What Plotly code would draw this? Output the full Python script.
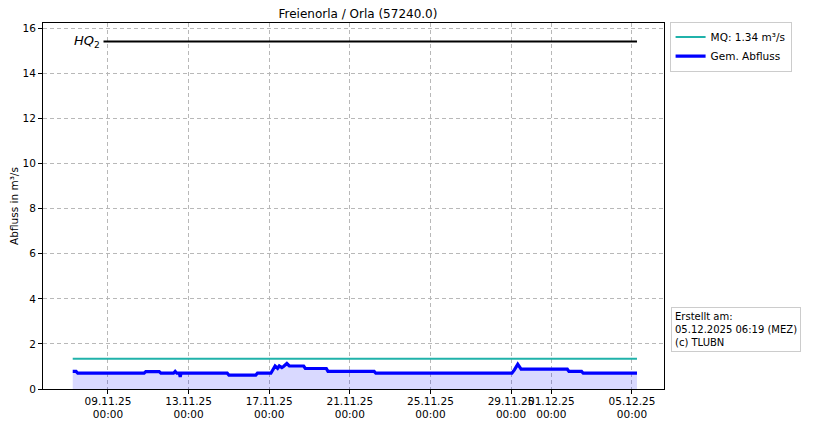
import plotly.graph_objects as go

# ---- data ----
flow_times = [
    "2025-11-07 06:00", "2025-11-07 10:00", "2025-11-07 12:00", "2025-11-10 19:00",
    "2025-11-10 21:00", "2025-11-11 13:00", "2025-11-11 15:00", "2025-11-12 06:00",
    "2025-11-12 08:00", "2025-11-12 10:00", "2025-11-12 13:00", "2025-11-12 14:00",
    "2025-11-12 15:00", "2025-11-14 22:00", "2025-11-15 00:00", "2025-11-16 08:00",
    "2025-11-16 10:00", "2025-11-17 02:00", "2025-11-17 07:00", "2025-11-17 10:00",
    "2025-11-17 12:00", "2025-11-17 15:00", "2025-11-17 17:00", "2025-11-17 21:00",
    "2025-11-18 00:00", "2025-11-18 17:00", "2025-11-18 19:00", "2025-11-19 20:00",
    "2025-11-19 22:00", "2025-11-22 05:00", "2025-11-22 07:00", "2025-11-29 01:00",
    "2025-11-29 04:00", "2025-11-29 08:00", "2025-11-29 12:00", "2025-12-01 19:00",
    "2025-12-01 21:00", "2025-12-02 12:00", "2025-12-02 14:00", "2025-12-05 06:00",
]
flow_values = [
    0.78, 0.78, 0.70, 0.70,
    0.77, 0.77, 0.70, 0.70,
    0.78, 0.70, 0.70, 0.54,
    0.70, 0.70, 0.62, 0.62,
    0.70, 0.70, 1.02, 0.92,
    1.02, 0.95, 1.00, 1.13,
    1.02, 1.02, 0.91, 0.91,
    0.78, 0.78, 0.70, 0.70,
    0.85, 1.10, 0.88, 0.88,
    0.78, 0.78, 0.70, 0.70,
]
mq_value = 1.34
hq2_value = 15.42
period = ["2025-11-07 06:00", "2025-12-05 06:00"]

tick_dates = ["2025-11-09", "2025-11-13", "2025-11-17", "2025-11-21",
              "2025-11-25", "2025-11-29", "2025-12-01", "2025-12-05"]
tick_labels = ["09.11.25<br>00:00", "13.11.25<br>00:00", "17.11.25<br>00:00",
               "21.11.25<br>00:00", "25.11.25<br>00:00", "29.11.25<br>00:00",
               "01.12.25<br>00:00", "05.12.25<br>00:00"]
y_ticks = [0, 2, 4, 6, 8, 10, 12, 14, 16]

FONT = "DejaVu Sans"

fig = go.Figure()

# fill under flow
fig.add_trace(go.Scatter(
    x=flow_times, y=flow_values, mode="lines", fill="tozeroy",
    fillcolor="rgba(0,0,255,0.15)", line=dict(width=0), showlegend=False,
    hoverinfo="skip"))

# HQ2
fig.add_trace(go.Scatter(
    x=period, y=[hq2_value, hq2_value], mode="lines",
    line=dict(color="black", width=2), showlegend=False))

# MQ
fig.add_trace(go.Scatter(
    x=period, y=[mq_value, mq_value], mode="lines",
    line=dict(color="#20b2aa", width=2), name="MQ: 1.34 m³/s"))

# flow
fig.add_trace(go.Scatter(
    x=flow_times, y=flow_values, mode="lines",
    line=dict(color="blue", width=3.2), name="Gem. Abfluss"))

fig.add_annotation(
    x=period[0], y=hq2_value, xref="x", yref="y", xanchor="left", yanchor="middle",
    xshift=-3, text="<i>HQ</i><sub>2</sub>", showarrow=False, bgcolor="white",
    borderpad=3, font=dict(family=FONT, size=13, color="black"))

fig.add_annotation(
    x=1.012, y=0.1, xref="paper", yref="paper", xanchor="left", yanchor="bottom",
    text="Erstellt am:<br>05.12.2025 06:19 (MEZ)<br>(c) TLUBN", align="left",
    showarrow=False, bgcolor="white", bordercolor="#cccccc", borderwidth=1,
    borderpad=3, font=dict(family=FONT, size=10, color="black"))

axis_common = dict(
    showline=True, linecolor="black", linewidth=1, mirror=True,
    ticks="outside", ticklen=4, tickcolor="black",
    showgrid=True, gridcolor="#b8b8b8", griddash="4px,3px", gridwidth=1,
    zeroline=False, tickfont=dict(family=FONT, size=10.5, color="black"),
    automargin=False,
)

fig.update_layout(
    width=812, height=418,
    margin=dict(l=35, r=156, t=15, b=37),
    paper_bgcolor="white", plot_bgcolor="white",
    font=dict(family=FONT, size=10, color="black"),
    title=dict(text="Freienorla / Orla (57240.0)", x=0.431, xanchor="center",
               y=0.986, yanchor="middle", font=dict(family=FONT, size=12, color="black")),
    xaxis=dict(range=["2025-11-05 18:36", "2025-12-06 14:10"], tickvals=tick_dates,
               ticktext=tick_labels, tickangle=0, ticklabelstandoff=-2, **axis_common),
    yaxis=dict(range=[0, 16.24], tickvals=y_ticks,
               title=dict(text="Abfluss in m³/s", font=dict(family=FONT, size=10.5), standoff=4),
               **axis_common),
    legend=dict(x=1.009, y=1.004, xanchor="left", yanchor="top",
                bordercolor="#cccccc", borderwidth=1, bgcolor="white",
                font=dict(family=FONT, size=10.5), itemwidth=30,
                tracegroupgap=0),
    showlegend=True,
)

fig.write_html("out.html")
